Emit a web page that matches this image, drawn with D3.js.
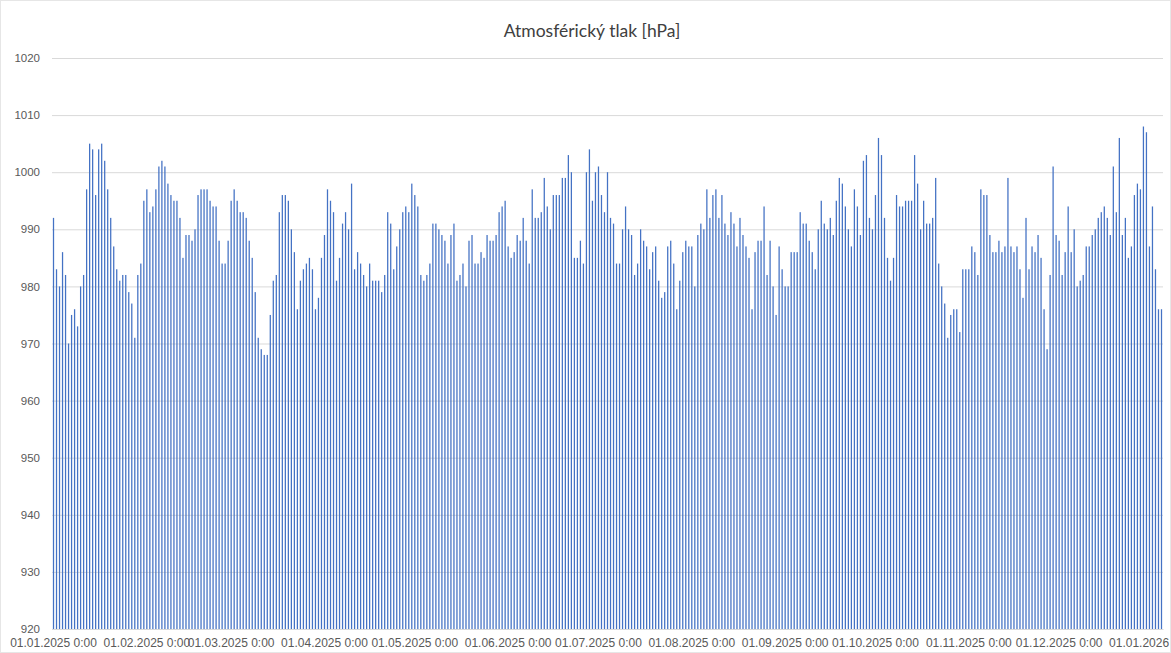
<!DOCTYPE html>
<html>
<head>
<meta charset="utf-8">
<script src="https://cdn.jsdelivr.net/npm/d3@7"></script>
<style>
	body { margin: 0; background: #fff; }
	svg { display: block; font-family: Lato, "Liberation Sans", sans-serif; }
	.grid line { stroke: #d9d9d9; stroke-width: 1; }
	.tick text { fill: #595959; }
</style>
</head>
<body>
<svg id="svg"></svg>
<script>
const TITLE = 'Atmosférický tlak [hPa]'
const START_DAY = '01.01.2025 0:00'

// daily pressure, 01.01.2025 .. 01.01.2026
const pressure = [
	992, 983, 980, 986, 982, 970, 975, 976, 973, 980, 982, 997, 1005, 1004, 996, 1004,
	1005, 1002, 997, 992, 987, 983, 981, 982, 982, 979, 977, 971, 982, 984, 995,
	997, 993, 994, 997, 1001, 1002, 1001, 998, 996, 995, 995, 992, 985, 989, 989,
	988, 990, 996, 997, 997, 997, 995, 994, 994, 988, 984, 984, 988,
	995, 997, 995, 993, 993, 992, 988, 985, 979, 971, 969, 968, 968, 975, 981, 982,
	993, 996, 996, 995, 990, 986, 976, 981, 983, 984, 985, 983, 976, 978, 985,
	989, 997, 995, 993, 981, 985, 991, 993, 990, 998, 983, 986, 984, 982, 980,
	984, 981, 981, 981, 979, 982, 993, 991, 983, 987, 990, 993, 994, 993, 998,
	996, 994, 982, 981, 982, 984, 991, 991, 990, 989, 988, 984, 989, 991, 981, 982,
	984, 980, 988, 989, 984, 984, 986, 985, 989, 988, 988, 989, 993, 994, 995,
	987, 985, 986, 989, 988, 992, 988, 984, 997, 992, 992, 993, 999, 994, 990,
	996, 996, 996, 999, 999, 1003, 1000, 985, 985, 988, 984, 1000, 1004, 995, 1000,
	1001, 996, 993, 1000, 992, 991, 984, 984, 990, 994, 990, 989, 982, 984, 990,
	988, 987, 983, 986, 987, 981, 978, 979, 987, 988, 984, 976, 981, 986, 988, 987,
	987, 980, 989, 991, 990, 997, 992, 996, 997, 992, 996, 991, 989, 993, 991,
	987, 992, 989, 987, 985, 976, 986, 988, 988, 994, 982, 988, 980, 975, 987, 983,
	980, 980, 986, 986, 986, 993, 991, 991, 988, 986, 983, 990, 995, 991, 990,
	992, 989, 995, 999, 998, 994, 990, 987, 997, 994, 989, 1002, 1003, 992, 990, 996,
	1006, 1003, 992, 985, 981, 985, 996, 994, 994, 995, 995, 995, 1003, 998, 990,
	995, 991, 991, 992, 999, 984, 980, 977, 971, 975, 976, 976, 972, 983, 983, 983, 987,
	986, 982, 997, 996, 996, 989, 986, 986, 988, 986, 987, 999, 987, 986, 987,
	983, 978, 992, 983, 987, 986, 989, 985, 976, 969, 982, 1001, 989, 988, 982,
	986, 994, 986, 990, 980, 981, 982, 987, 987, 989, 990, 992, 993, 994, 992,
	989, 1001, 993, 1006, 989, 992, 985, 987, 996, 998, 997, 1008, 1007, 987, 994,
	983, 976,
	976
]

const yTicks = [920, 930, 940, 950, 960, 970, 980, 990, 1000, 1010, 1020]
const xTickLabels = [
	'01.01.2025 0:00', '01.02.2025 0:00', '01.03.2025 0:00', '01.04.2025 0:00',
	'01.05.2025 0:00', '01.06.2025 0:00', '01.07.2025 0:00', '01.08.2025 0:00',
	'01.09.2025 0:00', '01.10.2025 0:00', '01.11.2025 0:00', '01.12.2025 0:00',
	'01.01.2026 0:00'
]

const W = 1171, H = 653
const margin = {top: 58, right: 8, bottom: 23, left: 52}

const parse = d3.timeParse('%d.%m.%Y %H:%M')
const fmt = d3.timeFormat('%d.%m.%Y %-H:%M')
const day0 = parse(START_DAY)
const days = pressure.map((v, i) => d3.timeDay.offset(day0, i))
const data = days.map((d, i) => ({date: d, value: pressure[i]}))

const x = d3.scaleBand()
	.domain(days.map(d => +d))
	.range([margin.left, W - margin.right])
	.paddingInner(0.58)
	.paddingOuter(0.29)
const y = d3.scaleLinear()
	.domain([920, 1020])
	.range([H - margin.bottom - 1, margin.top])

const svg = d3.select('#svg')
	.attr('width', W)
	.attr('height', H)

svg.append('rect')
	.attr('x', 0.5).attr('y', 0.5)
	.attr('width', W - 1).attr('height', H - 1)
	.attr('fill', '#fff')
	.attr('stroke', '#e6e6e6')

// gridlines + y labels
svg.append('g')
	.attr('class', 'grid')
	.attr('transform', `translate(${margin.left},0)`)
	.call(d3.axisLeft(y).tickValues(yTicks).tickFormat(d3.format('d'))
		.tickSize(-(W - margin.left - margin.right)).tickPadding(12))
	.call(g => g.select('.domain').remove())
	.call(g => g.selectAll('.tick text').attr('font-size', 11.5))

svg.append('g')
	.selectAll('rect')
	.data(data)
	.join('rect')
	.attr('x', d => x(+d.date))
	.attr('y', d => y(d.value))
	.attr('width', x.bandwidth())
	.attr('height', d => y(920) - y(d.value))
	.attr('fill', '#4472c4')

// x axis, month labels
const xTicks = xTickLabels.map(s => +parse(s))
svg.append('g')
	.attr('transform', `translate(0,${H - margin.bottom - 1})`)
	.call(d3.axisBottom(x).tickValues(xTicks).tickSize(0).tickPadding(9).tickFormat(d => fmt(new Date(d))))
	.call(g => g.select('.domain').attr('stroke', '#d9d9d9'))
	.call(g => g.selectAll('.tick text').attr('font-size', 12))

svg.append('text')
	.attr('x', 592)
	.attr('y', 37)
	.attr('text-anchor', 'middle')
	.attr('font-size', 17.5)
	.attr('fill', '#404040')
	.text(TITLE)
</script>
</body>
</html>
